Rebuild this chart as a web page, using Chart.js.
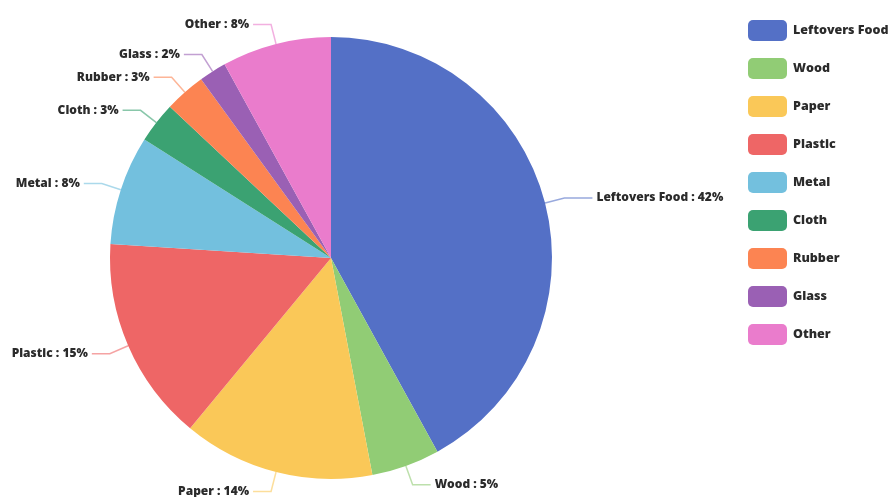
<!DOCTYPE html>
<html>
<head>
<meta charset="utf-8">
<script src="https://cdn.jsdelivr.net/npm/chart.js@4/dist/chart.umd.min.js"></script>
<style>
  html, body { margin: 0; padding: 0; background: #fff; }
  #wrap { width: 890px; height: 497px; position: relative; }
</style>
</head>
<body>
<div id="wrap"><canvas id="pieChart"></canvas></div>
<script>
const categories = ["Leftovers Food", "Wood", "Paper", "Plastic", "Metal", "Cloth", "Rubber", "Glass", "Other"];
const shares = [42, 5, 14, 15, 8, 3, 3, 2, 8];
const palette = ["#5470c6", "#91cc75", "#fac858", "#ee6666", "#73c0de", "#3ba272", "#fc8452", "#9a60b4", "#ea7ccc"];

const labelFont = "800 12px 'Open Sans', sans-serif";
const legendFont = "800 12.5px 'Open Sans', sans-serif";

// callout labels with a bent leader line, like the original
const calloutPlugin = {
    id: "callouts",
    afterDatasetsDraw(chart) {
        const ctx = chart.ctx;
        const meta = chart.getDatasetMeta(0);
        const values = chart.data.datasets[0].data;
        ctx.save();
        ctx.font = labelFont;
        ctx.textBaseline = "middle";
        meta.data.forEach((arc, i) => {
            const mid = (arc.startAngle + arc.endAngle) / 2;
            const dx = Math.cos(mid), dy = Math.sin(mid);
            const r = arc.outerRadius;
            const p0 = { x: arc.x + dx * r, y: arc.y + dy * r };
            const p1 = { x: arc.x + dx * (r + 20), y: arc.y + dy * (r + 20) };
            const side = dx >= 0 ? 1 : -1;
            const len2 = side > 0 && i === 0 ? 28 : 18;
            const p2 = { x: p1.x + side * len2, y: p1.y };

            ctx.strokeStyle = palette[i] + "99";
            ctx.lineWidth = 1.5;
            ctx.beginPath();
            ctx.moveTo(p0.x, p0.y);
            ctx.lineTo(p1.x, p1.y);
            ctx.lineTo(p2.x, p2.y);
            ctx.stroke();

            ctx.fillStyle = "#2b2b2b";
            ctx.textAlign = side > 0 ? "left" : "right";
            ctx.fillText(chart.data.labels[i] + " : " + values[i] + "%", p2.x + side * 4, p2.y);
        });
        ctx.restore();
    }
};

// legend drawn on the right with rounded colour boxes
const sideLegend = {
    id: "sideLegend",
    afterDraw(chart) {
        const ctx = chart.ctx;
        const colors = chart.data.datasets[0].backgroundColor;
        ctx.save();
        ctx.font = legendFont;
        ctx.textBaseline = "middle";
        ctx.textAlign = "left";
        chart.data.labels.forEach((lab, i) => {
            const cy = 30 + i * 38;
            ctx.fillStyle = colors[i];
            ctx.beginPath();
            ctx.roundRect(748, cy - 10, 39, 21, 5);
            ctx.fill();
            ctx.fillStyle = "#2b2b2b";
            ctx.fillText(lab, 793, cy);
        });
        ctx.restore();
    }
};

document.addEventListener("DOMContentLoaded", () => {
    new Chart(document.getElementById("pieChart"), {
        type: "pie",
        data: {
            labels: categories,
            datasets: [{
                data: shares,
                backgroundColor: palette,
                borderWidth: 0,
                hoverOffset: 0
            }]
        },
        options: {
            responsive: true,
            maintainAspectRatio: false,
            animation: false,
            events: [],
            layout: {
                padding: { left: 110, right: 338, top: 37, bottom: 18 }
            },
            plugins: {
                legend: { display: false },
                tooltip: { enabled: false }
            }
        },
        plugins: [calloutPlugin, sideLegend]
    });
});
</script>
</body>
</html>
